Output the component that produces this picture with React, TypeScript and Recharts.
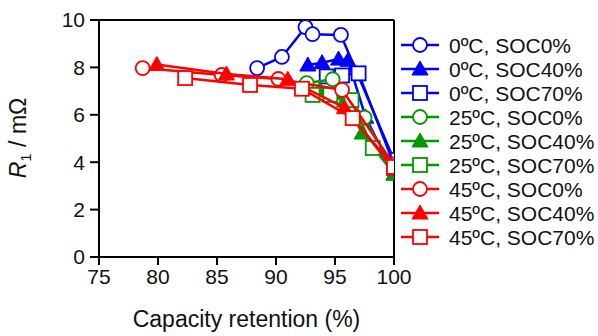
import { ScatterChart, Scatter, XAxis, YAxis, Legend, ReferenceLine } from "recharts"

const xTicks = [75, 80, 85, 90, 95, 100]
const yTicks = [0, 2, 4, 6, 8, 10]

// capacity retention (%) , R1 (mOhm)
const t0Soc0 = [[88.4, 7.97], [90.5, 8.44], [92.5, 9.7], [93.1, 9.4], [95.5, 9.37], [100, 4.1]]
const t0Soc40 = [[92.7, 8.1], [93.9, 8.2], [95.3, 8.35], [96.1, 8.3], [97.6, 5.9], [100, 3.5]]
const t0Soc70 = [[94.3, 7.62], [95.6, 7.66], [97.0, 7.75], [100, 3.9]]
const t25Soc0 = [[92.6, 7.34], [94.8, 7.5], [97.5, 5.88], [100, 3.6]]
const t25Soc40 = [[93.7, 7.05], [95.8, 6.58], [97.3, 5.23], [100, 3.5]]
const t25Soc70 = [[93.1, 6.84], [94.6, 6.84], [96.4, 6.62], [98.2, 4.6], [100, 3.8]]
const t45Soc0 = [[78.7, 7.97], [85.4, 7.68], [90.2, 7.51], [95.6, 7.05], [100, 3.9]]
const t45Soc40 = [[79.9, 8.12], [85.8, 7.72], [91.0, 7.5], [95.8, 6.3], [100, 3.7]]
const t45Soc70 = [[82.3, 7.55], [87.8, 7.26], [92.2, 7.1], [96.5, 5.86], [100, 3.8]]

const BLUE = "#0000ff"
const GREEN = "#009900"
const RED = "#ff0000"
const FONT = "'Liberation Sans', Arial, sans-serif"

type Kind = "circle" | "triangle" | "square"

const series: { name: string; color: string; kind: Kind; pts: number[][] }[] = [
  { name: "0ºC, SOC0%", color: BLUE, kind: "circle", pts: t0Soc0 },
  { name: "0ºC, SOC40%", color: BLUE, kind: "triangle", pts: t0Soc40 },
  { name: "0ºC, SOC70%", color: BLUE, kind: "square", pts: t0Soc70 },
  { name: "25ºC, SOC0%", color: GREEN, kind: "circle", pts: t25Soc0 },
  { name: "25ºC, SOC40%", color: GREEN, kind: "triangle", pts: t25Soc40 },
  { name: "25ºC, SOC70%", color: GREEN, kind: "square", pts: t25Soc70 },
  { name: "45ºC, SOC0%", color: RED, kind: "circle", pts: t45Soc0 },
  { name: "45ºC, SOC40%", color: RED, kind: "triangle", pts: t45Soc40 },
  { name: "45ºC, SOC70%", color: RED, kind: "square", pts: t45Soc70 },
]

function Marker({ kind, color, cx, cy }: { kind: Kind; color: string; cx: number; cy: number }) {
  if (kind === "circle") {
    return <circle cx={cx} cy={cy} r={7} fill="#fff" stroke={color} strokeWidth={1.8} />
  }
  if (kind === "square") {
    return <rect x={cx - 7} y={cy - 7} width={14} height={14} fill="#fff" stroke={color} strokeWidth={1.8} />
  }
  return (
    <polygon
      points={`${cx},${cy - 8} ${cx + 8},${cy + 6} ${cx - 8},${cy + 6}`}
      fill={color}
      stroke={color}
      strokeWidth={1}
    />
  )
}

function LegendBox() {
  return (
    <svg width={198} height={230} style={{ display: "block" }}>
      {series.map((s, i) => {
        const y = 13 + i * 24
        return (
          <g key={s.name}>
            <line x1={1} x2={39} y1={y} y2={y} stroke={s.color} strokeWidth={2.5} />
            <Marker kind={s.kind} color={s.color} cx={20} cy={y} />
            <text x={49} y={y + 7.5} fontSize={21} fontFamily={FONT} fill="#111">
              {s.name}
            </text>
          </g>
        )
      })}
    </svg>
  )
}

export default function App() {
  return (
    <div style={{ position: "absolute", left: 0, top: 0, background: "#fff" }}>
      <ScatterChart width={598} height={336} margin={{ top: 20, right: 204, bottom: 0, left: 0 }}>
        <XAxis
          type="number"
          dataKey="x"
          domain={[75, 100]}
          ticks={xTicks}
          allowDataOverflow
          height={79}
          stroke="#000"
          strokeWidth={2}
          tickSize={8}
          tickMargin={4}
          tick={{ fill: "#111", fontSize: 21, fontFamily: FONT }}
          label={{
            content: (p: any) => {
              const vb = p.viewBox || { x: 99, y: 257, width: 295 }
              return (
                <text x={vb.x + vb.width / 2} y={vb.y + 70} textAnchor="middle" fontSize={23} fontFamily={FONT} fill="#111">
                  Capacity retention (%)
                </text>
              )
            },
          }}
        />
        <YAxis
          type="number"
          dataKey="y"
          domain={[0, 10]}
          ticks={yTicks}
          allowDataOverflow
          width={99}
          stroke="#000"
          strokeWidth={2}
          tickSize={9}
          tickMargin={5}
          tick={{ fill: "#111", fontSize: 21, fontFamily: FONT }}
          label={{
            content: () => (
              <text
                transform="translate(26,138) rotate(-90)"
                textAnchor="middle"
                fontSize={23}
                fontFamily={FONT}
                fill="#111"
              >
                <tspan fontStyle="italic">R</tspan>
                <tspan fontSize={15} dy={5}>1</tspan>
                <tspan dy={-5}> / mΩ</tspan>
              </text>
            ),
          }}
        />
        <ReferenceLine y={10} stroke="#000" strokeWidth={2} />
        <ReferenceLine x={100} stroke="#000" strokeWidth={2} />
        {series.map((s) => (
          <Scatter
            key={s.name}
            name={s.name}
            data={s.pts.map(([x, y]) => ({ x, y }))}
            line={{ stroke: s.color, strokeWidth: 2.5 }}
            lineType="joint"
            isAnimationActive={false}
            shape={(p: any) => <Marker kind={s.kind} color={s.color} cx={p.cx} cy={p.cy} />}
          />
        ))}
        <Legend
          layout="vertical"
          align="center"
          verticalAlign="middle"
          wrapperStyle={{ position: "absolute", left: 400, top: 32, width: 198 }}
          content={() => <LegendBox />}
        />
      </ScatterChart>
    </div>
  )
}
